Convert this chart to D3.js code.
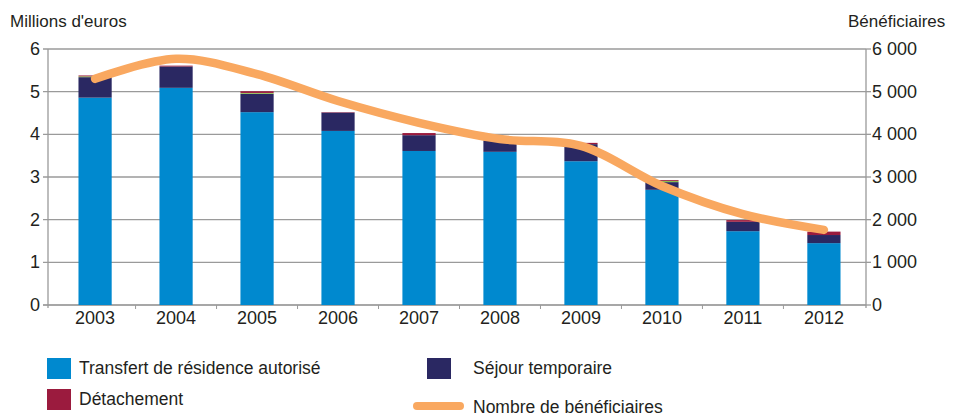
<!DOCTYPE html>
<html>
<head>
<meta charset="utf-8">
<script src="https://cdn.jsdelivr.net/npm/d3@7"></script>
<style>
  body { margin: 0; background: #fff; }
  text { font-family: "Liberation Sans", Arial, sans-serif; fill: #231f20; }
</style>
</head>
<body>
<script>
// data
var years = ["2003", "2004", "2005", "2006", "2007", "2008", "2009", "2010", "2011", "2012"];
var transfert = [4.86, 5.09, 4.52, 4.08, 3.61, 3.59, 3.37, 2.70, 1.73, 1.45];
var sejour = [0.48, 0.50, 0.43, 0.43, 0.37, 0.27, 0.40, 0.18, 0.22, 0.19];
var autre = [0.02, 0, 0.02, 0, 0, 0, 0, 0.03, 0, 0];
var detachement = [0.02, 0.02, 0.04, 0.01, 0.05, 0, 0.03, 0.02, 0.04, 0.08];
var beneficiaires = [5300, 5770, 5410, 4780, 4270, 3890, 3730, 2790, 2130, 1760];
var leftTicks = [0, 1, 2, 3, 4, 5, 6];
var rightTicks = [0, 1000, 2000, 3000, 4000, 5000, 6000];

var w = 968;
var h = 416;
var plotLeft = 48, plotRight = 866, plotTop = 49, plotBottom = 305;

var svg = d3.select("body").append("svg")
  .attr("width", w)
  .attr("height", h);

var x = d3.scaleBand().domain(years).range([55, 864]).paddingInner(0.59).paddingOuter(0.29);
var y = d3.scaleLinear().domain([0, 6]).range([plotBottom, plotTop]);
var y2 = d3.scaleLinear().domain([0, 6000]).range([plotBottom, plotTop]);

// gridlines
svg.append("g").selectAll("line")
  .data(leftTicks)
  .enter().append("line")
  .attr("x1", plotLeft - 5)
  .attr("x2", plotRight)
  .attr("y1", function(d) { return y(d); })
  .attr("y2", function(d) { return y(d); })
  .attr("stroke", function(d) { return d == 0 ? "#8a8a8a" : "#9a9a9a"; })
  .attr("stroke-width", 1.3);

// axis lines
svg.append("line").attr("x1", plotLeft).attr("x2", plotLeft).attr("y1", plotTop).attr("y2", plotBottom + 3)
  .attr("stroke", "#9a9a9a").attr("stroke-width", 1.3);
svg.append("line").attr("x1", plotRight).attr("x2", plotRight).attr("y1", plotTop).attr("y2", plotBottom + 3)
  .attr("stroke", "#9a9a9a").attr("stroke-width", 1.3);
svg.append("g").selectAll("line")
  .data(rightTicks)
  .enter().append("line")
  .attr("x1", plotRight)
  .attr("x2", plotRight + 5)
  .attr("y1", function(d) { return y2(d); })
  .attr("y2", function(d) { return y2(d); })
  .attr("stroke", "#9a9a9a").attr("stroke-width", 1.3);

// x ticks between categories
svg.append("g").selectAll("line")
  .data(years.slice(1))
  .enter().append("line")
  .attr("x1", function(d) { return x(d) - x.step() * x.paddingInner() / 2; })
  .attr("x2", function(d) { return x(d) - x.step() * x.paddingInner() / 2; })
  .attr("y1", plotBottom)
  .attr("y2", plotBottom + 4)
  .attr("stroke", "#9a9a9a").attr("stroke-width", 1);

// stacked bars
var rows = years.map(function(yr, i) {
  return { year: yr, transfert: transfert[i], sejour: sejour[i], autre: autre[i], detachement: detachement[i] };
});
var keys = ["transfert", "sejour", "autre", "detachement"];
var colors = { transfert: "#0089cf", sejour: "#2a2862", autre: "#8dbe4a", detachement: "#9b1b3e" };
var stack = d3.stack().keys(keys)(rows);

svg.append("g").selectAll("g")
  .data(stack)
  .enter().append("g")
  .attr("fill", function(d) { return colors[d.key]; })
  .selectAll("rect")
  .data(function(d) { return d; })
  .enter().append("rect")
  .attr("x", function(d) { return x(d.data.year); })
  .attr("width", x.bandwidth())
  .attr("y", function(d) { return y(d[1]); })
  .attr("height", function(d) { return y(d[0]) - y(d[1]); });

// beneficiaries line
var line = d3.line()
  .x(function(d, i) { return x(years[i]) + x.bandwidth() / 2; })
  .y(function(d) { return y2(d); })
  .curve(d3.curveCatmullRom.alpha(0.5));

svg.append("path")
  .datum(beneficiaires)
  .attr("d", line)
  .attr("fill", "none")
  .attr("stroke", "#f9a860")
  .attr("stroke-width", 8.5)
  .attr("stroke-linecap", "round")
  .attr("stroke-linejoin", "round");

// tick labels
svg.append("g").selectAll("text")
  .data(leftTicks)
  .enter().append("text")
  .attr("x", 40)
  .attr("y", function(d) { return y(d) + 6; })
  .attr("text-anchor", "end")
  .attr("font-size", "18px")
  .text(function(d) { return d; });

svg.append("g").selectAll("text")
  .data(rightTicks)
  .enter().append("text")
  .attr("x", 872)
  .attr("y", function(d) { return y2(d) + 6; })
  .attr("font-size", "18px")
  .text(function(d) { return d3.format(",")(d).replace(/,/g, " "); });

svg.append("g").selectAll("text")
  .data(years)
  .enter().append("text")
  .attr("x", function(d) { return x(d) + x.bandwidth() / 2; })
  .attr("y", 324)
  .attr("text-anchor", "middle")
  .attr("font-size", "18px")
  .text(function(d) { return d; });

// axis titles
svg.append("text").attr("x", 10).attr("y", 27).attr("font-size", "17px").text("Millions d'euros");
svg.append("text").attr("x", 848).attr("y", 27).attr("font-size", "17px").text("Bénéficiaires");

// legend
var legend = [
  { label: "Transfert de résidence autorisé", color: colors.transfert, x: 47, y: 358, type: "rect" },
  { label: "Séjour temporaire", color: colors.sejour, x: 427, y: 358, type: "rect" },
  { label: "Détachement", color: colors.detachement, x: 47, y: 389, type: "rect" },
  { label: "Nombre de bénéficiaires", color: "#f9a860", x: 413, y: 396, type: "line" }
];
var lg = svg.append("g").selectAll("g")
  .data(legend)
  .enter().append("g");

lg.filter(function(d) { return d.type == "rect"; })
  .append("rect")
  .attr("x", function(d) { return d.x; })
  .attr("y", function(d) { return d.y; })
  .attr("width", 24)
  .attr("height", 21)
  .attr("fill", function(d) { return d.color; });

lg.filter(function(d) { return d.type == "line"; })
  .append("line")
  .attr("x1", function(d) { return d.x + 4; })
  .attr("x2", function(d) { return d.x + 47; })
  .attr("y1", function(d) { return d.y + 10; })
  .attr("y2", function(d) { return d.y + 10; })
  .attr("stroke", function(d) { return d.color; })
  .attr("stroke-width", 8)
  .attr("stroke-linecap", "round");

lg.append("text")
  .attr("x", function(d) { return d.x < 100 ? 79 : 473; })
  .attr("y", function(d) { return d.y + 16 + (d.type == "line" ? 1 : 0); })
  .attr("font-size", "17.5px")
  .text(function(d) { return d.label; });
</script>
</body>
</html>
